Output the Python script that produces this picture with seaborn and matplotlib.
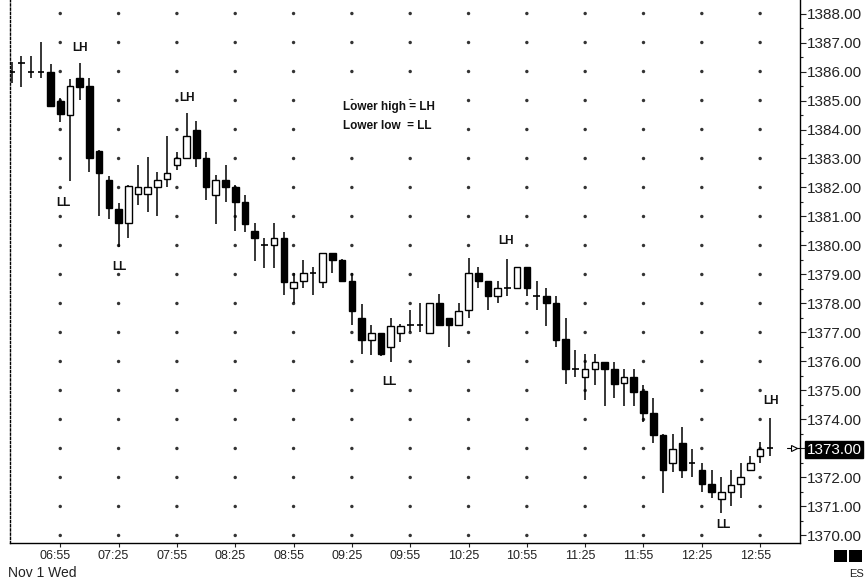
import matplotlib
matplotlib.use("Agg")
import matplotlib.pyplot as plt
import matplotlib.transforms as mtransforms
from matplotlib import font_manager as fm
from matplotlib.patches import Rectangle
import seaborn as sns
import numpy as np
import pandas as pd

# ---------------- data (5-minute bars, Nov 1 Wed, 06:30 .. 13:00) ----------------
opens = [1386.00, 1386.30, 1386.00, 1386.00, 1386.00, 1385.00, 1384.50, 1385.77, 1385.50, 1383.27,
         1382.26, 1381.26, 1380.77, 1381.77, 1381.77, 1382.03, 1382.28, 1382.78, 1383.00, 1384.00,
         1383.00, 1381.74, 1382.26, 1382.03, 1381.50, 1380.51, 1380.00, 1380.00, 1380.25, 1378.52,
         1378.79, 1379.04, 1378.75, 1379.75, 1379.50, 1378.79, 1377.49, 1376.74, 1376.99, 1376.51,
         1376.99, 1377.26, 1377.26, 1376.97, 1378.00, 1377.49, 1377.26, 1377.78, 1379.04, 1378.79,
         1378.26, 1378.52, 1378.52, 1379.25, 1378.26, 1378.26, 1378.00, 1376.77, 1375.73, 1375.48,
         1375.73, 1375.99, 1375.73, 1375.25, 1375.48, 1374.99, 1374.23, 1373.47, 1372.51, 1373.20,
         1372.51, 1372.26, 1371.78, 1371.26, 1371.49, 1371.77, 1372.26, 1372.74, 1373.00]
highs = [1386.34, 1386.55, 1386.55, 1387.03, 1386.25, 1385.10, 1385.73, 1386.28, 1385.77, 1383.30,
         1382.40, 1381.47, 1382.08, 1382.78, 1383.06, 1382.55, 1383.78, 1383.23, 1384.56, 1384.30,
         1383.23, 1382.43, 1382.78, 1382.10, 1381.74, 1380.77, 1380.25, 1380.77, 1380.48, 1379.04,
         1379.50, 1379.27, 1379.75, 1379.75, 1379.52, 1379.06, 1377.98, 1377.26, 1376.99, 1377.49,
         1377.30, 1377.78, 1378.00, 1378.03, 1378.33, 1377.49, 1378.00, 1379.56, 1379.27, 1378.79,
         1378.79, 1379.52, 1379.25, 1379.25, 1378.79, 1378.52, 1378.26, 1377.49, 1376.40, 1376.26,
         1376.26, 1375.99, 1375.99, 1375.73, 1375.73, 1375.20, 1374.73, 1373.50, 1373.50, 1373.73,
         1372.97, 1372.51, 1372.26, 1372.03, 1372.26, 1372.51, 1372.73, 1373.23, 1374.04]
lows = [1385.60, 1385.45, 1385.78, 1385.78, 1384.80, 1384.27, 1382.23, 1385.02, 1382.55, 1381.00,
        1380.90, 1379.96, 1380.25, 1381.40, 1381.17, 1381.00, 1382.03, 1382.60, 1383.00, 1382.72,
        1381.57, 1380.74, 1381.50, 1380.51, 1380.48, 1379.48, 1379.21, 1379.21, 1378.29, 1378.00,
        1378.52, 1378.29, 1378.52, 1379.04, 1378.79, 1377.26, 1376.26, 1376.22, 1376.20, 1375.99,
        1376.68, 1377.03, 1377.03, 1376.97, 1377.26, 1376.51, 1377.26, 1377.49, 1378.52, 1377.78,
        1378.00, 1378.26, 1378.52, 1378.26, 1377.78, 1377.22, 1376.51, 1375.22, 1375.48, 1374.67,
        1375.19, 1374.47, 1374.73, 1374.47, 1374.47, 1373.92, 1373.18, 1371.45, 1372.20, 1371.97,
        1372.03, 1371.51, 1371.28, 1370.77, 1371.00, 1371.28, 1372.26, 1372.49, 1372.74]
closes = [1386.00, 1386.30, 1386.00, 1386.00, 1384.80, 1384.53, 1385.50, 1385.48, 1383.00, 1382.49,
          1381.28, 1380.77, 1382.05, 1382.00, 1382.00, 1382.26, 1382.51, 1383.00, 1383.78, 1383.00,
          1382.00, 1382.26, 1382.00, 1381.50, 1380.74, 1380.25, 1380.00, 1380.25, 1378.75, 1378.75,
          1379.04, 1379.04, 1379.75, 1379.50, 1378.79, 1377.75, 1376.74, 1376.99, 1376.26, 1377.23,
          1377.23, 1377.26, 1377.26, 1378.03, 1377.26, 1377.26, 1377.75, 1379.04, 1378.79, 1378.26,
          1378.52, 1378.52, 1379.25, 1378.52, 1378.26, 1378.00, 1376.74, 1375.73, 1375.73, 1375.73,
          1375.99, 1375.73, 1375.22, 1375.48, 1374.96, 1374.21, 1373.47, 1372.26, 1372.97, 1372.26,
          1372.51, 1371.78, 1371.51, 1371.49, 1371.74, 1372.01, 1372.51, 1372.97, 1373.00]

tick_bars = [5, 11, 17, 23, 29, 35, 41, 47, 53, 59, 65, 71, 77]
tick_labels = ["06:55", "07:25", "07:55", "08:25", "08:55", "09:25", "09:55",
               "10:25", "10:55", "11:25", "11:55", "12:25", "12:55"]
price_levels = [1370, 1371, 1372, 1373, 1374, 1375, 1376, 1377, 1378, 1379,
                1380, 1381, 1382, 1383, 1384, 1385, 1386, 1387, 1388]

# swing annotations (bar index, price, text)
swing_x = [7.0, 5.3, 11.1, 18.0, 50.9, 38.9, 73.2, 78.1]
swing_y = [1386.81, 1381.47, 1379.26, 1385.07, 1380.14, 1375.28, 1370.36, 1374.64]
swing_t = ["LH", "LL", "LL", "LH", "LH", "LL", "LL", "LH"]

df = pd.DataFrame({"open": opens, "high": highs, "low": lows, "close": closes})
df["bar"] = np.arange(len(df))

# ---------------- style ----------------
sns.set_theme(style="white")
plt.rcParams["font.family"] = ["Liberation Sans", "DejaVu Sans"]

fig = plt.figure(figsize=(8.67, 5.81), dpi=100)
fig.patch.set_facecolor("white")
ax = fig.add_axes([10 / 867, 38 / 581, 790 / 867, 543 / 581])
ax.set_facecolor("white")

# dotted grid (one dot per 30-min column and price level)
gx, gy = np.meshgrid(tick_bars, price_levels)
grid = pd.DataFrame({"x": gx.ravel(), "y": gy.ravel()})
sns.scatterplot(data=grid, x="x", y="y", s=6, color="#333333", edgecolor="none",
                ax=ax, zorder=1, legend=False)
ax.set_xlabel("")
ax.set_ylabel("")

# wicks
ax.vlines(df["bar"], df["low"], df["high"], color="black", lw=1.1, zorder=2)

w = 0.68
up = df[df["close"] > df["open"]]
dn = df[df["close"] < df["open"]]
dj = df[df["close"] == df["open"]]
ax.bar(up["bar"], up["close"] - up["open"], bottom=up["open"], width=w,
       facecolor="white", edgecolor="black", lw=1.0, zorder=3)
ax.bar(dn["bar"], dn["open"] - dn["close"], bottom=dn["close"], width=w,
       facecolor="black", edgecolor="black", lw=1.0, zorder=3)
ax.hlines(dj["open"], dj["bar"] - w / 2, dj["bar"] + w / 2, color="black", lw=1.2, zorder=3)

# annotations
for xx, yy, tt in zip(swing_x, swing_y, swing_t):
    ax.text(xx, yy, tt, ha="center", va="center", fontsize=8.5, fontweight="bold",
            color="#111111", zorder=4)
ax.text(34.1, 1384.78, "Lower high = LH", ha="left", va="center", fontsize=8.5,
        fontweight="bold", color="#111111", zorder=4,
        bbox=dict(facecolor="white", edgecolor="none", pad=0.5))
ax.text(34.1, 1384.12, "Lower low  = LL", ha="left", va="center", fontsize=8.5,
        fontweight="bold", color="#111111", zorder=4,
        bbox=dict(facecolor="white", edgecolor="none", pad=0.5))

# last price marker
last = closes[-1]
ax.plot([79.8, 81.1], [last, last], color="black", lw=0.8, clip_on=False, zorder=4)
ax.plot([80.45], [last], marker=">", ms=5, mfc="white", mec="black", mew=0.8,
        clip_on=False, zorder=5)

# axes limits
ax.set_xlim(-0.17, 81.1)
ax.set_ylim(1369.74, 1388.466)

# spines
ax.spines["top"].set_visible(False)
ax.spines["left"].set_linestyle((0, (1.5, 1.5)))
ax.spines["left"].set_color("black")
ax.spines["left"].set_linewidth(1.0)
ax.spines["right"].set_color("black")
ax.spines["right"].set_linewidth(1.0)
ax.spines["bottom"].set_color("black")
ax.spines["bottom"].set_linewidth(1.0)

# x ticks
ax.set_xticks(tick_bars)
ax.set_xticklabels(tick_labels, fontsize=9, color="#222222")
ax.tick_params(axis="x", direction="out", length=3, width=0.8, pad=2, colors="#222222",
               bottom=True)
offset = mtransforms.ScaledTranslation(-5 / 100, 0, fig.dpi_scale_trans)
for lbl in ax.get_xticklabels():
    lbl.set_transform(lbl.get_transform() + offset)

# y ticks on the right
ax.yaxis.tick_right()
ax.set_yticks(price_levels)
ax.set_yticklabels([f"{v:.2f}" for v in price_levels], fontsize=11, color="#222222")
ax.set_yticks([v + 0.5 for v in price_levels[:-1]], minor=True)
ax.tick_params(axis="y", which="major", direction="out", length=4, width=0.8, pad=1,
               right=True, left=False, colors="#222222")
ax.tick_params(axis="y", which="minor", direction="out", length=2.5, width=0.8,
               right=True, left=False, colors="#222222")
ax.grid(False)
for lbl in ax.get_yticklabels():
    if lbl.get_text() == f"{last:.2f}":
        lbl.set_color("white")
        lbl.set_bbox(dict(facecolor="black", edgecolor="black", boxstyle="square,pad=0.1"))

# footer texts
fig.text(8 / 867, 1 - 573 / 581, "Nov 1 Wed", ha="left", va="center", fontsize=10,
         color="#222222")
fig.patches.append(Rectangle((834 / 867, 1 - 562 / 581), 13 / 867, 12 / 581,
                             transform=fig.transFigure, facecolor="black", edgecolor="none"))
fig.patches.append(Rectangle((849 / 867, 1 - 562 / 581), 13 / 867, 12 / 581,
                             transform=fig.transFigure, facecolor="black", edgecolor="none"))
fig.text(857 / 867, 1 - 574 / 581, "ES", ha="center", va="center", fontsize=8,
         color="#222222")

fig.savefig("out.png", dpi=100, facecolor="white")
